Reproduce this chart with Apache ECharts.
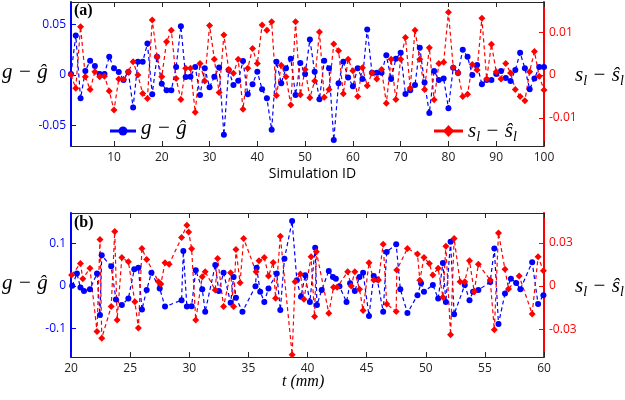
<!DOCTYPE html>
<html><head><meta charset="utf-8">
<script src="https://cdn.jsdelivr.net/npm/echarts@6/dist/echarts.min.js"></script>
<style>html,body{margin:0;padding:0;background:#fff}#c{width:625px;height:400px}</style>
</head><body><div id="c"></div>
<script>
// Panel (a): values per simulation ID 1..100
const gA = [0.001,0.039,-0.023,0.004,0.014,0.009,0.001,0.001,0.018,0.0066,
 0.003,-0.005,0.003,-0.032,0.013,0.013,0.031,-0.019,0.018,-0.0085,
 -0.015,-0.015,0.008,0.048,-0.002,-0.0017,0.008,-0.0196,0.0066,-0.012,
 -0.0017,0.0075,-0.059,0.0049,-0.0098,-0.0056,0.0137,-0.019,-0.009,0.0032,
 -0.014,-0.023,-0.054,0.013,-0.008,0.0066,0.016,-0.0196,0.0118,0.001,
 0.035,0.0032,-0.024,0.014,0.0066,-0.064,-0.008,0.013,-0.0024,-0.011,
 0.0066,-0.004,0.045,0.0022,0.0022,0.0022,0.0196,-0.004,0.016,0.022,
 -0.0186,-0.015,-0.0098,0.027,-0.0075,-0.0375,0.004,-0.005,-0.0035,-0.0327,
 0.0072,0.002,0.025,0.018,0,0.0098,-0.009,-0.005,-0.005,0.001,
 0.004,-0.003,-0.006,0.005,0.022,0.0066,-0.014,-0.0035,0.008,0.008];
const sA = [0,-0.0031,0.0113,-0.0004,-0.0034,0.0008,-0.0004,-0.0003,-0.0037,-0.0082,
 -0.0009,-0.001,0.0008,0.0031,0,-0.0043,-0.0055,0.0129,0.0043,-0.0004,
 0.0078,0.0105,-0.0008,-0.0057,0.0016,0.0016,-0.0087,0.0027,-0.0014,0.0116,
 0.0037,-0.0041,0.0094,0.0013,0.0004,0.0037,-0.008,0.0016,0.0062,0.0027,
 0.0117,0.0105,0.0125,-0.0048,0.0023,-0.0004,-0.007,0.0125,-0.0046,0.0013,
 -0.0053,-0.0014,0.0101,-0.0052,-0.0034,0.0073,0.0057,-0.0044,0.0037,0.001,
 -0.005,0.0017,-0.0025,0.0005,-0.0009,0.0013,-0.0066,0.0037,-0.0057,0.0037,
 0.0088,-0.003,0.0105,0.0037,-0.0034,0.0064,-0.0058,0.0027,0.003,0.0147,
 0.0018,0.0005,-0.005,-0.0045,0.0025,0.0012,0.0133,-0.0009,0.0072,0.0008,
 -0.0009,0.0027,0.0005,-0.0034,-0.005,-0.006,0.0008,0.0055,-0.0003,-0.0035];

// Panel (b): t (mm) and values
const tBg = [20.1,20.5,20.8,21.1,21.6,22.2,22.45,22.6,23.4,23.8,24.3,24.85,25.35,25.7,26.0,26.4,26.8,27.5,27.95,29.35,
 29.5,29.8,30.2,30.55,31.1,31.35,32.2,32.5,32.9,33.5,33.75,33.95,34.5,35.6,35.7,36.0,36.35,36.7,37.4,37.7,
 38.05,38.7,39.1,39.45,39.8,40.2,40.65,40.8,41.2,41.8,42.15,42.4,42.7,43.3,43.6,44.0,44.4,44.7,45.2,45.6,
 45.9,46.4,46.7,47.5,47.85,48.45,49.3,49.6,49.85,50.6,51.05,51.45,51.7,52.1,52.4,53.3,53.7,54.0,54.45,55.45,
 55.8,56.15,56.7,57.2,57.65,58.0,59.0,59.5,59.95];
const gB = [0.0,0.029,-0.004,-0.012,-0.008,0.029,-0.069,0.072,0.046,-0.032,-0.045,-0.030,0.039,0.043,-0.056,-0.010,0.031,-0.006,-0.049,-0.034,
 0.082,-0.049,-0.048,0.037,-0.008,-0.061,0.049,-0.012,0.031,-0.040,0.021,-0.028,-0.061,-0.001,0.043,-0.014,-0.038,-0.006,0.029,-0.057,
 0.064,0.153,0.013,-0.026,0.025,-0.038,0.090,-0.045,-0.010,0.035,0.021,0.017,-0.001,-0.038,0.006,-0.012,0.021,0.031,-0.071,0.023,
 0.015,-0.061,0.080,0.098,-0.008,-0.064,-0.022,0.006,-0.014,0.002,-0.030,0.054,-0.038,0.104,-0.067,0.002,-0.034,-0.014,-0.010,0.009,
 0.088,-0.090,-0.018,0.017,0.007,-0.008,0.056,-0.043,-0.022];
const tBs = [20.05,20.8,21.0,21.6,22.2,22.45,22.6,23.4,23.7,23.9,24.3,24.85,25.4,25.7,26.0,26.4,27.4,27.6,27.95,28.3,
 29.35,29.8,29.95,30.2,30.55,31.1,31.35,32.2,32.4,32.9,33.5,33.75,33.95,34.3,34.6,35.65,35.9,36.35,36.7,37.1,
 37.3,37.7,38.7,38.95,39.4,39.7,40.3,40.6,40.75,41.8,42.2,42.5,43.4,43.7,44.0,44.4,44.7,45.2,45.6,46.0,
 46.4,46.7,47.5,47.55,48.45,49.3,49.5,49.85,50.3,50.6,51.05,51.45,51.7,52.1,52.4,52.9,53.3,53.7,54.1,54.45,
 55.45,55.8,56.15,56.7,57.0,57.9,59.0,59.5,59.95];
const sB = [0.0076,0.0157,0.005,0.0123,-0.0317,0.0324,-0.0363,-0.0143,0.038,-0.0236,0.0199,0.0168,-0.0109,-0.0293,0.0261,0.0185,0.003,0.0014,0.0162,0.0152,
 0.0337,0.0423,0.0376,0.026,-0.0236,0.0065,0.0099,-0.0028,0.0192,-0.0143,0.0092,-0.0143,0.0254,0.0023,0.033,0.0099,0.0175,0.0199,0.0069,0.0164,
 -0.0085,0.0347,-0.0478,0.003,0.0083,-0.0092,0.0203,-0.0213,0.0238,-0.0189,-0.0009,-0.0009,0.0099,0.0,0.0099,-0.0023,-0.0171,0.0161,0.0042,0.0042,
 0.0291,-0.0125,-0.0178,0.0111,0.0261,0.0222,0.004,0.0199,0.0157,0.0076,0.0123,-0.0078,0.0277,-0.034,0.033,0.003,0.003,0.0175,-0.004,0.0152,
 0.0042,-0.0305,0.0369,0.0116,-0.002,0.0069,-0.0194,0.0203,0.0106];

// Tick labels
const xTicksA = [10,20,30,40,50,60,70,80,90,100];
const xTicksB = [20,25,30,35,40,45,50,55,60];
const gTicksA = [-0.05,0,0.05];
const sTicksA = [-0.01,0,0.01];
const gTicksB = [-0.1,0,0.1];
const sTicksB = [-0.03,0,0.03];

const BLUE = '#0000ff', RED = '#ff0000', DARK = '#262626';
const chart = echarts.init(document.getElementById('c'), null, {renderer:'canvas'});

function xAx(grid, pos, min, max, ticks, labels){
  return {type:'value', gridIndex:grid, position:pos, min, max, splitLine:{show:false},
    axisLine:{show:true, onZero:false, lineStyle:{color:DARK, width:1}},
    axisTick:{show:true, inside:true, length:5, customValues:ticks, lineStyle:{color:DARK}},
    axisLabel:{show:labels, customValues:ticks, color:'#222', fontSize:12, fontFamily:'Open Sans', margin:6}};
}
function yAx(grid, pos, min, max, ticks, color){
  return {type:'value', gridIndex:grid, position:pos, min, max, splitLine:{show:false},
    axisLine:{show:true, onZero:false, lineStyle:{color, width:2}},
    axisTick:{show:true, inside:true, length:5, customValues:ticks, lineStyle:{color}},
    axisLabel:{customValues:ticks, color, fontSize:12, fontFamily:'Open Sans', margin:5, formatter:v=>String(v)}};
}
function ser(x, y, vals, xs, color, sym){
  return {type:'line', xAxisIndex:x, yAxisIndex:y, animation:false,
    data: vals.map((v,i)=>[xs ? xs[i] : i+1, v]),
    lineStyle:{color, width:1.2, type:[4,3]}, itemStyle:{color},
    symbol:sym, symbolSize: sym==='circle'?6:7, showSymbol:true};
}
function nameText(x, y, color, isS){
  const base = {fontFamily:'Liberation Serif', fontStyle:'italic', fontSize:21, color, lineHeight:26, verticalAlign:'middle'};
  const sub = {fontFamily:'Liberation Serif', fontStyle:'italic', fontSize:14, color, lineHeight:14, verticalAlign:'top', padding:[12,0,0,0]};
  return {type:'text', left:x, top:y, style:{
    text: isS ? '{b|s}{s|l}{b| − ŝ}{s|l}' : '{b|g − ĝ}',
    rich:{b:base, s:sub}}};
}

chart.setOption({
  animation:false,
  grid:[{left:71, right:81, top:2, height:144},{left:71, right:81, top:213, height:144}],
  xAxis:[xAx(0,'bottom',1,100,xTicksA,true), xAx(0,'top',1,100,xTicksA,false),
         xAx(1,'bottom',20,60,xTicksB,true), xAx(1,'top',20,60,xTicksB,false)],
  yAxis:[yAx(0,'left',-0.07,0.072,gTicksA,BLUE), yAx(0,'right',-0.0166,0.0171,sTicksA,RED),
         yAx(1,'left',-0.168,0.172,gTicksB,BLUE), yAx(1,'right',-0.0494,0.0508,sTicksB,RED)],
  series:[ser(0,0,gA,null,BLUE,'circle'), ser(0,1,sA,null,RED,'diamond'),
          ser(2,2,gB,tBg,BLUE,'circle'), ser(2,3,sB,tBs,RED,'diamond')],
  graphic:[
    {type:'text', left:74, top:3, style:{text:'(a)', font:'bold 16px "Liberation Serif"', fill:'#000'}},
    {type:'text', left:74, top:215, style:{text:'(b)', font:'bold 16px "Liberation Serif"', fill:'#000'}},
    nameText(2,62,BLUE,false),
    nameText(575,62,RED,true),
    nameText(2,273,BLUE,false),
    nameText(575,273,RED,true),
    {type:'text', left:'center', top:167, style:{text:'Simulation ID', font:'14px "Open Sans"', fill:'#000'}},
    {type:'text', left:282, top:374, style:{text:'t (mm)', font:'italic 16px "Liberation Serif"', fill:'#000'}},
    // legend (a)
    {type:'line', shape:{x1:110,y1:131,x2:136,y2:131}, style:{stroke:BLUE, lineWidth:3}},
    {type:'circle', shape:{cx:123,cy:131,r:4.5}, style:{fill:BLUE}},
    nameText(141,118,BLUE,false),
    {type:'line', shape:{x1:434,y1:131,x2:463,y2:131}, style:{stroke:RED, lineWidth:3}},
    {type:'polygon', shape:{points:[[448.5,125],[454,131],[448.5,137],[443,131]]}, style:{fill:RED}},
    nameText(468,118,RED,true)
  ]
});
</script></body></html>
